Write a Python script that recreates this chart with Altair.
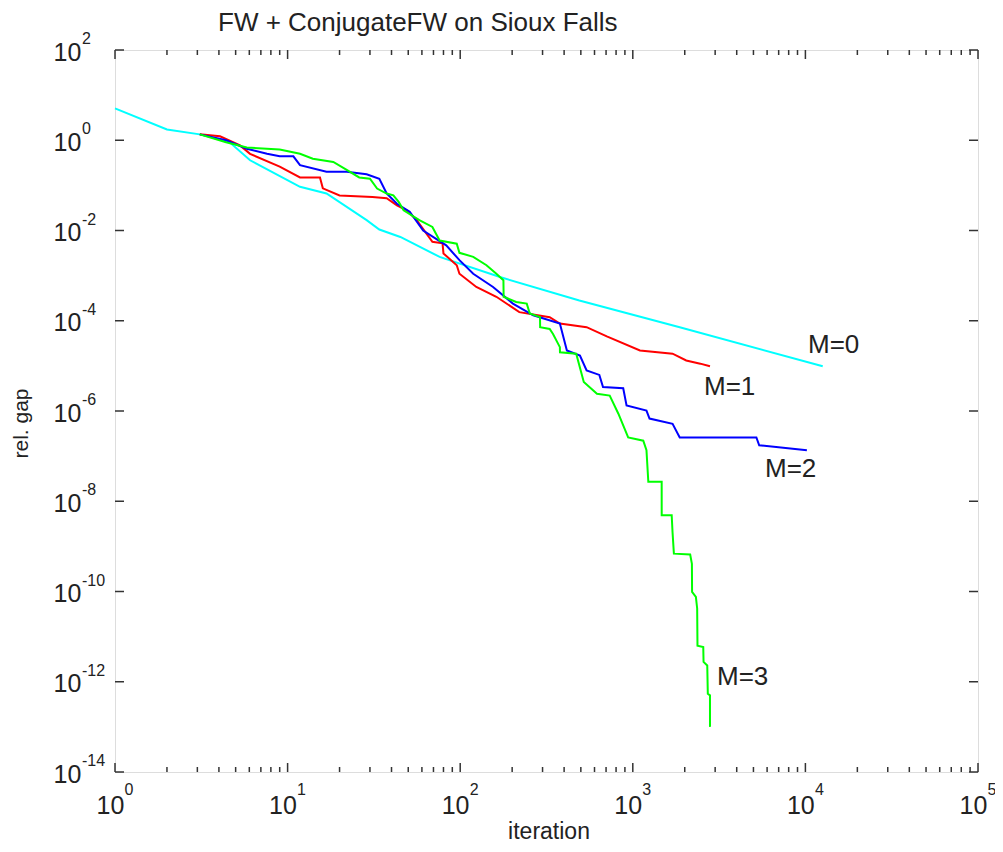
import altair as alt
import pandas as pd

# ---------------- data ----------------
m0_x = [1, 2, 3.1, 4.6, 6.06, 11.8, 16.8, 28.7, 34, 45, 76, 170, 490, 1870, 12600]
m0_y = [5.1, 1.73, 1.35, 0.91, 0.36, 0.093, 0.066, 0.017, 0.0105, 0.0072, 0.0026,
        0.00093, 0.00028, 7.2e-5, 9.8e-6]

m1_x = [3.1, 4.06, 5.3, 6.06, 9, 11.8, 15.4, 16, 20, 31, 37.5, 43, 49, 56, 69, 79, 80,
        95.5, 99, 124, 162, 220, 330, 378, 540, 707, 1100, 1700, 2040, 2460, 2800]
m1_y = [1.35, 1.22, 0.77, 0.5, 0.26, 0.15, 0.15, 0.086, 0.06, 0.055, 0.052, 0.036,
        0.028, 0.017, 0.0056, 0.0052, 0.0031, 0.0017, 0.0011, 5.6e-4, 3.4e-4, 1.55e-4,
        1.2e-4, 8.7e-5, 7.2e-5, 4.5e-5, 2.2e-5, 1.86e-5, 1.32e-5, 1.12e-5, 9.8e-6]

m2_x = [3.1, 4.4, 5.8, 7.6, 9, 10.8, 11.8, 16.8, 22, 28.7, 34, 37.5, 43, 51, 61, 83, 99,
        119, 155, 202, 265, 378, 415, 494, 540, 640, 672, 880, 920, 1200, 1250, 1700,
        1870, 5200, 5400, 10200]
m2_y = [1.35, 1.0, 0.65, 0.5, 0.44, 0.44, 0.28, 0.2, 0.2, 0.176, 0.14, 0.066, 0.039,
        0.026, 0.01, 0.0047, 0.0022, 0.0011, 5.6e-4, 2.4e-4, 1.32e-4, 8.7e-5, 2.2e-5,
        1.7e-5, 7.9e-6, 6.3e-6, 3.4e-6, 3.2e-6, 1.32e-6, 1.02e-6, 6.8e-7, 5.2e-7,
        2.6e-7, 2.6e-7, 1.74e-7, 1.35e-7]

m3_x = [3.1, 4.4, 5.8, 9, 11.8, 14, 18.4, 22, 26, 30, 33, 37.5, 41, 44, 47, 58, 69, 76,
        95.5, 99, 119, 142, 162, 178, 178.5, 211, 243, 253, 290, 290.5, 330, 345, 378,
        378.5, 470, 520, 620, 735, 825, 940, 1150, 1200, 1230, 1470, 1470.5, 1680,
        1700, 1730, 2150, 2200, 2205, 2320, 2360, 2370, 2560, 2570, 2700, 2720, 2800,
        2800.5]
m3_y = [1.35, 0.9, 0.69, 0.62, 0.5, 0.39, 0.33, 0.22, 0.15, 0.14, 0.085, 0.066, 0.06,
        0.043, 0.028, 0.017, 0.012, 0.006, 0.0051, 0.0032, 0.0026, 0.0017, 0.0011,
        7.9e-4, 3.4e-4, 2.6e-4, 2.4e-4, 1.45e-4, 1.2e-4, 7.2e-5, 6.6e-5, 5.1e-5,
        2.6e-5, 2.0e-5, 1.86e-5, 4.4e-6, 2.4e-6, 2.2e-6, 8.7e-7, 2.6e-7, 2.2e-7,
        1.35e-7, 2.7e-8, 2.7e-8, 4.9e-9, 4.9e-9, 2.0e-9, 6.9e-10, 6.6e-10, 4.1e-10,
        9.8e-11, 7.6e-11, 4.2e-11, 6.3e-12, 5.9e-12, 2.75e-12, 2.3e-12, 5.4e-13,
        5.0e-13, 1.0e-13]

series_names = ["M=0", "M=1", "M=2", "M=3"]
series_colors = ["#00FFFF", "#FF0000", "#0000FF", "#00FF00"]

label_text = ["M=0", "M=1", "M=2", "M=3"]
label_x = [10350, 2585, 5834, 3076]
label_y = [1.93e-5, 2.26e-6, 3.44e-8, 8.5e-13]

x_tick_exp = [0, 1, 2, 3, 4, 5]
x_tick_sup = ["0", "1", "2", "3", "4", "5"]
y_tick_exp = [2, 0, -2, -4, -6, -8, -10, -12, -14]
y_tick_sup = ["2", "0", "-2", "-4", "-6", "-8", "-10", "-12", "-14"]
tick_base = "10"
minor_mult = [2, 3, 4, 5, 6, 7, 8, 9]

title_text = ["FW + ConjugateFW on Sioux Falls"]
x_title = "iteration"
y_title = "rel. gap"

# ---------------- build tables ----------------
rows = []
for name, xs, ys in zip(series_names, [m0_x, m1_x, m2_x, m3_x], [m0_y, m1_y, m2_y, m3_y]):
    for i, (xv, yv) in enumerate(zip(xs, ys)):
        rows.append({"series": name, "x": xv, "y": yv, "order": i})
df = pd.DataFrame(rows)

labels_df = pd.DataFrame({"x": label_x, "y": label_y, "text": label_text})
title_df = pd.DataFrame({"text": title_text})

x_major = pd.DataFrame({"x": [10.0 ** e for e in x_tick_exp], "sup": x_tick_sup})
x_minor = pd.DataFrame({"x": [m * 10.0 ** e for e in x_tick_exp[:-1] for m in minor_mult]})
y_major = pd.DataFrame({"y": [10.0 ** e for e in y_tick_exp], "sup": y_tick_sup})

W, H = 863, 722
FONT = "Liberation Sans, Arial, sans-serif"
TXT = "#222222"
TC = "#333333"

xscale = alt.Scale(type="log", domain=[1, 1e5], nice=False)
yscale = alt.Scale(type="log", domain=[1e-14, 1e2], nice=False)

x_axis = alt.Axis(
    values=[10.0 ** e for e in x_tick_exp], labelExpr=f"'{tick_base}'",
    ticks=False, domain=False, grid=False, labelFont=FONT, labelFontSize=25,
    labelColor=TXT, labelAlign="left", labelBaseline="alphabetic", labelPadding=41,
    labelOffset=-19, labelOverlap=False, labelFlush=False, title=x_title,
    titleFont=FONT, titleFontSize=23, titleFontWeight="normal", titleColor=TXT,
    titleBaseline="alphabetic", titleX=W / 2 + 2, titleY=66,
)
y_axis = alt.Axis(
    values=[10.0 ** e for e in y_tick_exp], labelExpr=f"'{tick_base}'",
    ticks=False, domain=False, grid=False, labelFont=FONT, labelFontSize=25,
    labelColor=TXT, labelAlign="left", labelBaseline="alphabetic", labelPadding=62,
    labelOffset=10, labelOverlap=False, labelFlush=False, title=y_title,
    titleFont=FONT, titleFontSize=21, titleFontWeight="normal", titleColor=TXT,
    titleBaseline="alphabetic", titleAngle=270, titleX=-88, titleY=H / 2 + 12,
)

X = alt.X("x:Q", scale=xscale, axis=x_axis)
Y = alt.Y("y:Q", scale=yscale, axis=y_axis)

lines = alt.Chart(df).mark_line(strokeWidth=2, interpolate="linear").encode(
    x=X, y=Y,
    color=alt.Color("series:N", scale=alt.Scale(domain=series_names, range=series_colors),
                    legend=None),
    order="order:Q",
)

texts = alt.Chart(labels_df).mark_text(
    align="left", baseline="alphabetic", fontSize=26, font=FONT, color=TXT
).encode(x=X, y=Y, text="text:N")

x_sup = alt.Chart(x_major).mark_text(
    align="left", baseline="alphabetic", fontSize=16, font=FONT, color=TXT, dx=9.5
).encode(x=X, y=alt.value(H + 23), text="sup:N")
y_sup = alt.Chart(y_major).mark_text(
    align="left", baseline="alphabetic", fontSize=16, font=FONT, color=TXT, dy=-6
).encode(y=Y, x=alt.value(-33), text="sup:N")

title_mark = alt.Chart(title_df).mark_text(
    align="left", baseline="alphabetic", fontSize=26, font=FONT, color=TXT
).encode(x=alt.value(103), y=alt.value(-19), text="text:N")

xb_major = alt.Chart(x_major).mark_rule(color=TC, strokeWidth=1.5).encode(
    x=X, y=alt.value(H), y2=alt.value(H - 9))
xt_major = alt.Chart(x_major).mark_rule(color=TC, strokeWidth=1.5).encode(
    x=X, y=alt.value(0), y2=alt.value(9))
xb_minor = alt.Chart(x_minor).mark_rule(color=TC, strokeWidth=1.5).encode(
    x=X, y=alt.value(H), y2=alt.value(H - 5))
xt_minor = alt.Chart(x_minor).mark_rule(color=TC, strokeWidth=1.5).encode(
    x=X, y=alt.value(0), y2=alt.value(5))
yl_major = alt.Chart(y_major).mark_rule(color=TC, strokeWidth=1.5).encode(
    y=Y, x=alt.value(0), x2=alt.value(9))
yr_major = alt.Chart(y_major).mark_rule(color=TC, strokeWidth=1.5).encode(
    y=Y, x=alt.value(W), x2=alt.value(W - 9))

chart = alt.layer(
    lines, texts, x_sup, y_sup, title_mark,
    xb_major, xt_major, xb_minor, xt_minor, yl_major, yr_major
).properties(
    width=W, height=H,
    autosize=alt.AutoSizeParams(type="none"),
    padding={"left": 107, "top": 42, "right": 17, "bottom": 72},
).configure_view(
    stroke="#333333", strokeWidth=1.5
).configure(background="white")

chart.save("out.html", embed_options={"renderer": "svg", "actions": False})
